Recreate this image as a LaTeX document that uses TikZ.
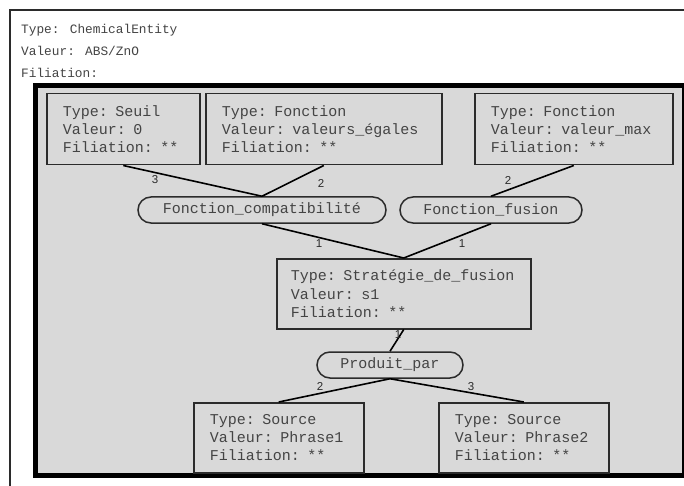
\documentclass[tikz,border=0pt]{standalone}
\usepackage{fontspec}
\setmainfont{Liberation Mono}
\newfontfamily\labfont{Liberation Sans}
\definecolor{bg}{HTML}{D9D9D9}
\definecolor{boxc}{HTML}{2B2B2B}
\definecolor{txt}{HTML}{444444}
\tikzset{
  box/.style={draw=boxc, line width=1.5pt, fill=bg, text=txt, anchor=north west,
    font=\fontsize{15}{18.3}\selectfont, align=left, inner xsep=16pt, inner ysep=0pt},
  pill/.style={draw=boxc, line width=1.5pt, fill=bg, text=txt, rounded corners=13pt,
    minimum height=26pt, inner sep=0pt, font=\fontsize{15}{18}\selectfont},
  link/.style={draw=black, line width=1.6pt},
  lab/.style={inner sep=0pt, text=boxc, font=\labfont\fontsize{11.5}{12}\selectfont},
  head/.style={anchor=base west, inner sep=0pt, text=txt, font=\fontsize{12.8}{15}\selectfont}
}
\begin{document}
\begin{tikzpicture}[x=1pt,y=-1pt]
\useasboundingbox (0,0) rectangle (684,486);
\fill[white] (0,0) rectangle (684,486);
% outer frame (cropped)
\draw[boxc, line width=2pt] (10,486) -- (10,10) -- (684,10);
\node[head] (h1) at (21,34) {Type: ChemicalEntity};
\node[head] (h2) at (21,56) {Valeur: ABS/ZnO};
\node[head] (h3) at (21,77.5) {Filiation:};
% inner frame
\draw[black, line width=4.4pt, fill=bg] (35.5,85.5) rectangle (684,475.5);
% boxes
\node[box, text width=121pt, minimum height=71pt] (seuil) at (46,93)
  {Type: Seuil\\Valeur: 0\\Filiation: **};
\node[box, text width=204pt, minimum height=71pt] (egales) at (205,93)
  {Type: Fonction\\Valeur: valeurs\_égales\\Filiation: **};
\node[box, text width=166pt, minimum height=71pt] (max) at (474,93)
  {Type: Fonction\\Valeur: valeur\_max\\Filiation: **};
\node[box, inner xsep=14pt, text width=226pt, minimum height=70pt] (strat) at (276,258)
  {Type: Stratégie\_de\_fusion\\Valeur: s1\\Filiation: **};
\node[box, text width=138pt, minimum height=70pt] (src1) at (193,402)
  {Type: Source\\Valeur: Phrase1\\Filiation: **};
\node[box, text width=138pt, minimum height=70pt] (src2) at (438,402)
  {Type: Source\\Valeur: Phrase2\\Filiation: **};
% pills
\node[pill, minimum width=248pt] (compat) at (262,210) {Fonction\_compatibilité};
\node[pill, minimum width=182pt] (fusion) at (491,210) {Fonction\_fusion};
\node[pill, minimum width=146pt] (prod) at (390,365) {Produit\_par};
% links
\draw[link] (seuil.south) -- (compat.north);
\draw[link] (egales.south) -- (compat.north);
\draw[link] (max.south) -- (fusion.north);
\draw[link] (compat.south) -- (strat.north);
\draw[link] (fusion.south) -- (strat.north);
\draw[link] (strat.south) -- (prod.north);
\draw[link] (prod.south) -- (src1.north);
\draw[link] (prod.south) -- (src2.north);
% labels
\node[lab] (l1) at (155,179.5) {3};
\node[lab] (l2) at (321,183) {2};
\node[lab] (l3) at (508,180) {2};
\node[lab] (l4) at (319,244) {1};
\node[lab] (l5) at (462,244) {1};
\node[lab] (l6) at (398,335) {1};
\node[lab] (l7) at (320,386.5) {2};
\node[lab] (l8) at (471,386.5) {3};
\end{tikzpicture}
\end{document}
